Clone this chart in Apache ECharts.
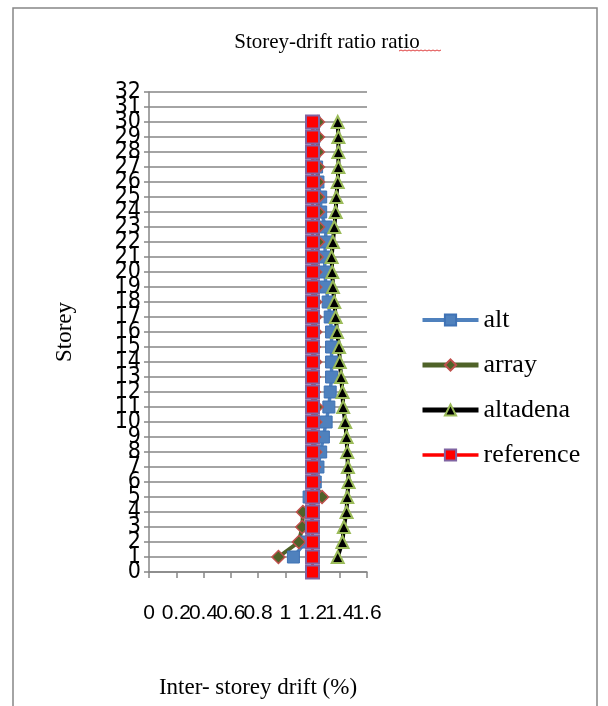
<!DOCTYPE html>
<html><head><meta charset="utf-8">
<script src="https://cdn.jsdelivr.net/npm/echarts@6/dist/echarts.min.js"></script>
<style>html,body{margin:0;padding:0;background:#fff}#c{width:608px;height:706px}</style>
</head><body><div id="c"></div>
<script>
const storeys = [1,2,3,4,5,6,7,8,9,10,11,12,13,14,15,16,17,18,19,20,21,22,23,24,25,26,27,28,29,30];
const refStoreys = [0,1,2,3,4,5,6,7,8,9,10,11,12,13,14,15,16,17,18,19,20,21,22,23,24,25,26,27,28,29,30];
const alt = [1.06,1.15,1.19,1.20,1.175,1.22,1.24,1.26,1.28,1.30,1.32,1.33,1.34,1.34,1.34,1.34,1.33,1.315,1.30,1.29,1.29,1.295,1.30,1.26,1.26,1.24,1.23,1.21,1.21,1.21];
const arrayS = [0.95,1.10,1.125,1.13,1.27,1.21,1.21,1.22,1.21,1.22,1.23,1.21,1.21,1.22,1.21,1.22,1.22,1.22,1.22,1.22,1.23,1.24,1.24,1.24,1.24,1.24,1.24,1.24,1.24,1.24];
const altadena = [1.385,1.42,1.43,1.45,1.455,1.465,1.46,1.455,1.45,1.44,1.425,1.42,1.41,1.40,1.395,1.38,1.37,1.36,1.35,1.345,1.34,1.35,1.36,1.37,1.375,1.385,1.39,1.39,1.39,1.385];
const reference = [1.2,1.2,1.2,1.2,1.2,1.2,1.2,1.2,1.2,1.2,1.2,1.2,1.2,1.2,1.2,1.2,1.2,1.2,1.2,1.2,1.2,1.2,1.2,1.2,1.2,1.2,1.2,1.2,1.2,1.2,1.2];
const seriesNames = ['alt','array','altadena','reference'];
const titleText = 'Storey-drift ratio ratio';
const xTitle = 'Inter- storey drift (%)';
const yTitle = 'Storey';

const pairs = (xs, ys) => xs.map((v,i)=>[v, ys[i]]);
const chart = echarts.init(document.getElementById('c'));
const serif = 'Liberation Serif';
const sans = "'Liberation Sans Narrow', 'DejaVu Sans Condensed', 'Liberation Sans', sans-serif";
const gray = '#868686';
const fmtX = v => String(Math.round(v*10)/10);
const xLabelBase = {fontFamily:'Liberation Sans',fontSize:21,color:'#000',hideOverlap:false,margin:31};
const yLabelBase = {fontFamily:sans,fontSize:23,color:'#000',hideOverlap:false,margin:8};
const isEven = v => Math.round(v) % 2 === 0;
const isX14 = v => Math.abs(v-1.4) < 1e-6;
chart.setOption({
  animation:false,
  backgroundColor:'#fff',
  title:{text:titleText,left:322,top:27,textAlign:'center',textStyle:{fontFamily:serif,fontSize:21,fontWeight:'normal',color:'#000'}},
  graphic:[
    {type:'rect',shape:{x:13,y:8,width:584,height:720},style:{fill:'none',stroke:gray,lineWidth:1.5},silent:true},
    {type:'polyline',shape:{points:[[399,51],[401,50],[403,51],[405,50],[407,51],[409,50],[411,51],[413,50],[415,51],[417,50],[419,51],[421,50],[423,51],[425,50],[427,51],[429,50],[431,51],[433,50],[435,51],[437,50],[439,51],[441,50]]},style:{stroke:'#e04040',lineWidth:1,fill:'none'},silent:true}
  ],
  legend:{orient:'vertical',left:415,top:302,itemWidth:56,itemHeight:14,itemGap:19,
    textStyle:{fontFamily:serif,fontSize:26,color:'#000'},
    data:[
      {name:'alt',lineStyle:{width:4}},
      {name:'array',lineStyle:{width:5}},
      {name:'altadena',lineStyle:{width:5}},
      {name:'reference',lineStyle:{width:3.5}}
    ]},
  grid:{left:149,right:241,top:92,bottom:134,containLabel:false},
  xAxis:[
    {type:'value',min:0,max:1.6,interval:0.2,
      name:xTitle,nameLocation:'middle',nameGap:104,nameTextStyle:{fontFamily:serif,fontSize:23,color:'#000'},
      axisLine:{show:true,lineStyle:{color:gray,width:1.5}},
      axisTick:{show:true,inside:false,length:6,lineStyle:{color:gray,width:1.5}},
      splitLine:{show:false},
      axisLabel:Object.assign({showMinLabel:true,showMaxLabel:true,formatter:v=>isX14(v)?'':fmtX(v)},xLabelBase)},
    {type:'value',min:0,max:1.6,interval:0.2,position:'bottom',
      axisLine:{show:false},axisTick:{show:false},splitLine:{show:false},
      axisLabel:Object.assign({showMinLabel:false,showMaxLabel:false,formatter:v=>isX14(v)?fmtX(v):''},xLabelBase)}
  ],
  yAxis:[
    {type:'value',min:0,max:32,interval:1,
      name:yTitle,nameLocation:'middle',nameGap:73,nameRotate:90,nameTextStyle:{fontFamily:serif,fontSize:23,color:'#000'},
      axisLine:{show:true,lineStyle:{color:gray,width:1.5}},
      axisTick:{show:true,inside:false,length:5,lineStyle:{color:gray,width:1.5}},
      splitLine:{show:true,lineStyle:{color:gray,width:1.5}},
      axisLabel:Object.assign({showMinLabel:true,showMaxLabel:true,formatter:v=>isEven(v)?String(v):''},yLabelBase)},
    {type:'value',min:0,max:32,interval:1,position:'left',
      axisLine:{show:false},axisTick:{show:false},splitLine:{show:false},
      axisLabel:Object.assign({showMinLabel:false,showMaxLabel:false,formatter:v=>isEven(v)?'':String(v)},yLabelBase)}
  ],
  series:[
    {name:'alt',type:'line',data:pairs(alt,storeys),symbol:'rect',symbolSize:12,
      lineStyle:{color:'#4F81BD',width:3.5},itemStyle:{color:'#4F81BD',borderColor:'#3F72B5',borderWidth:1}},
    {name:'array',type:'line',data:pairs(arrayS,storeys),symbol:'diamond',symbolSize:13,
      lineStyle:{color:'#4F6228',width:4},itemStyle:{color:'#4F6228',borderColor:'#C0504D',borderWidth:1.5}},
    {name:'altadena',type:'line',data:pairs(altadena,storeys),symbol:'triangle',symbolSize:12,
      lineStyle:{color:'#000',width:4},itemStyle:{color:'#000',borderColor:'#9BBB59',borderWidth:2}},
    {name:'reference',type:'line',data:pairs(reference,refStoreys),symbol:'rect',symbolSize:13,
      lineStyle:{color:'#FF0000',width:3},itemStyle:{color:'#FF0000',borderColor:'#8064A2',borderWidth:2}}
  ]
});
</script></body></html>
